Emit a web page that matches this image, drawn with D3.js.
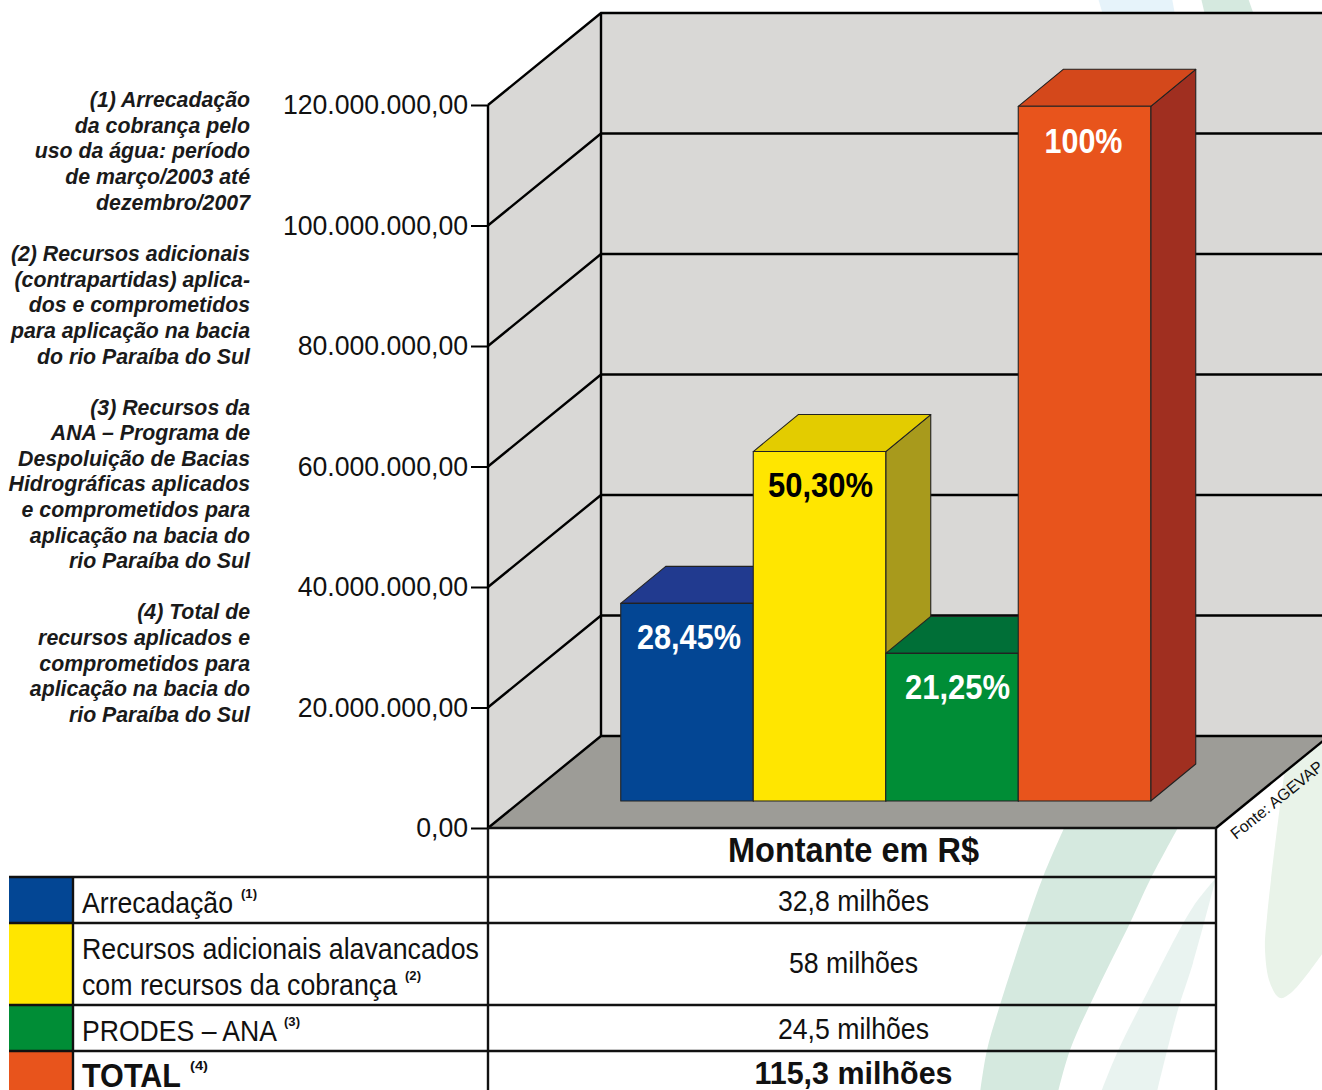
<!DOCTYPE html>
<html><head><meta charset="utf-8">
<script src="https://cdn.jsdelivr.net/npm/d3@7"></script>
<style>html,body{margin:0;padding:0;background:#fff;overflow:hidden}svg{display:block}text{font-family:"Liberation Sans",Arial,sans-serif}</style>
</head><body><svg id="c" width="1322" height="1090"></svg>
<script>
const categories = ["Arrecadação","Recursos adicionais alavancados com recursos da cobrança","PRODES – ANA","TOTAL"];
const values = [32800000,58000000,24500000,115300000];
const percentLabels = ["28,45%","50,30%","21,25%","100%"];
const percentColors = ["#fff","#000","#fff","#fff"];
const frontColors = ["#034694","#ffe600","#008d36","#e8541c"];
const topColors = ["#213a8f","#e3cc00","#006f37","#d4481b"];
const sideColors = ["#1a3070","#a89a1c","#00572a","#a02f20"];
const amountLabels = ["32,8 milhões","58 milhões","24,5 milhões","115,3 milhões"];
const tickValues = [0,20000000,40000000,60000000,80000000,100000000,120000000];
const notes = [
 "(1) Arrecadação","da cobrança pelo","uso da água: período","de março/2003 até","dezembro/2007",
 "(2) Recursos adicionais","(contrapartidas) aplica-","dos e comprometidos","para aplicação na bacia","do rio Paraíba do Sul",
 "(3) Recursos da","ANA – Programa de","Despoluição de Bacias","Hidrográficas aplicados","e comprometidos para","aplicação na bacia do","rio Paraíba do Sul",
 "(4) Total de","recursos aplicados e","comprometidos para","aplicação na bacia do","rio Paraíba do Sul"];
const noteBaselines = [107,133,158,184,210,261,287,312,338,364,415,440,466,491,517,543,568,619,645,671,696,722];

const svg = d3.select("#c");
const y = d3.scaleLinear().domain([0,120000000]).range([828,105]);
const x = d3.scaleBand().domain(categories).range([620.75,1150.75]);
const backDx=113, backDy=-92, barDx=45, barDy=-37, barLift=27;
const pts = a => a.map(p=>p.join(",")).join(" ");

// background decoration: each shape is two curved edges joined by straight ends
const curve = d3.line().curve(d3.curveCatmullRom);
const deco = [
 {c:"#d5e9df",a:[[1065,826],[1043,877],[1027,922],[1000,1005],[987,1050],[979,1100]],b:[[1056,1100],[1070,1050],[1097,990],[1130,923],[1150,880],[1179,826]]},
 {c:"#e9f3f0",a:[[1216,878],[1193,907],[1147,993],[1117,1053],[1098,1100]],b:[[1155,1100],[1177,1013],[1193,963],[1216,878]]},
 {c:"#e9f3e9",a:[[1290,735],[1283,783],[1267,917],[1265,950],[1270,983],[1280,998],[1292,992],[1325,950]],b:[[1325,735]]},
 {c:"#e6f3fa",a:[[1098,-2],[1103,15]],b:[[1175,15],[1172,-2]]},
 {c:"#d5e9df",a:[[1201,-2],[1205,15]],b:[[1254,15],[1248,-2]]}
];
svg.append("g").selectAll("path").data(deco).join("path")
 .attr("d",d=>curve(d.a)+"L"+(d.b.length>1?curve(d.b).slice(1):d.b[0].join(","))+"Z").attr("fill",d=>d.c);

// walls and floor
const y0=y(0), yTop=y(120000000), xL=488, xR=1216, xBack=xL+backDx;
svg.append("polygon").attr("points",pts([[xBack,yTop+backDy],[1322,yTop+backDy],[1322,y0+backDy],[xBack,y0+backDy]])).attr("fill","#d9d8d6");
svg.append("polygon").attr("points",pts([[xL,yTop],[xBack,yTop+backDy],[xBack,y0+backDy],[xL,y0]])).attr("fill","#d9d8d6");
svg.append("polygon").attr("points",pts([[xL,y0],[xBack,y0+backDy],[xR+backDx,y0+backDy],[xR,y0]])).attr("fill","#9d9c97");

// gridlines
const grid = svg.append("g").attr("stroke","#000").attr("stroke-width",2.4).attr("fill","none");
grid.selectAll("polyline").data(tickValues).join("polyline")
 .attr("points",d=>pts([[xL,y(d)],[xBack,y(d)+backDy],[1322,y(d)+backDy]]));
grid.append("line").attr("x1",xBack).attr("x2",xBack).attr("y1",yTop+backDy).attr("y2",y0+backDy);
grid.append("line").attr("x1",xL).attr("x2",xL).attr("y1",yTop).attr("y2",y0);
grid.append("line").attr("x1",xR).attr("x2",xR+backDx).attr("y1",y0).attr("y2",y0+backDy);

// axis
const fmt = d3.formatLocale({decimal:",",thousands:".",grouping:[3],currency:["R$",""]}).format(",.2f");
const axis = svg.append("g").attr("transform",`translate(${xL},0)`)
 .call(d3.axisLeft(y).tickValues(tickValues).tickFormat(fmt).tickSize(17).tickPadding(3));
axis.select(".domain").remove();
axis.selectAll("line").attr("stroke","#000").attr("stroke-width",2);
axis.selectAll("text").attr("font-size",28.4).attr("fill","#111").style("font-family",'"Liberation Sans",Arial,sans-serif').attr("dy","0.31em")
 .each(function(){ const w=this.getComputedTextLength(); d3.select(this).attr("textLength",w*0.938).attr("lengthAdjust","spacingAndGlyphs"); });

// bars
const bars = svg.append("g").selectAll("g").data(categories).join("g");
const base = y0-barLift, bw = x.bandwidth();
const hgt = v => y0-y(v);
bars.each(function(c,i){
 const g=d3.select(this), l=x(c), r=l+bw, t=base-hgt(values[i]);
 const add=(p,f)=>g.append("polygon").attr("points",pts(p)).attr("fill",f).attr("stroke","#222").attr("stroke-width",1.1).attr("stroke-linejoin","round");
 add([[r,t],[r+barDx,t+barDy],[r+barDx,base+barDy],[r,base]],sideColors[i]);
 add([[l,t],[r,t],[r+barDx,t+barDy],[l+barDx,t+barDy]],topColors[i]);
 add([[l,t],[r,t],[r,base],[l,base]],frontColors[i]);
});
const labelWidths=[104,105,105,78], labelDrop=[46,45,46,47], labelNudge=[2,1,5.5,-1];
bars.append("text").text((c,i)=>percentLabels[i])
 .attr("x",(c,i)=>x(c)+bw/2+labelNudge[i]-labelWidths[i]/2).attr("y",(c,i)=>base-hgt(values[i])+labelDrop[i])
 .attr("text-anchor","start").attr("font-size",35).attr("font-weight",700).attr("fill",(c,i)=>percentColors[i])
 .attr("textLength",(c,i)=>labelWidths[i]).attr("lengthAdjust","spacingAndGlyphs");

// notes
svg.append("g").selectAll("text").data(notes).join("text").text(d=>d)
 .attr("x",250).attr("y",(d,i)=>noteBaselines[i]).attr("text-anchor","end")
 .attr("font-size",21.3).attr("font-weight",700).attr("font-style","italic").attr("fill","#1a1a1a");

// table
const rowLines=[877,923,1005,1051];
const rowTops=[877,923,1005,1051], rowBottoms=[923,1005,1051,1092];
svg.append("g").selectAll("rect").data(frontColors).join("rect")
 .attr("x",9).attr("width",64).attr("y",(d,i)=>rowTops[i]).attr("height",(d,i)=>rowBottoms[i]-rowTops[i]).attr("fill",d=>d);
const tl=svg.append("g").attr("stroke","#111").attr("stroke-width",2.4);
tl.selectAll("line.h").data(rowLines).join("line").attr("class","h").attr("x1",9).attr("x2",xR).attr("y1",d=>d).attr("y2",d=>d);
tl.append("line").attr("x1",xL).attr("x2",xR).attr("y1",y0).attr("y2",y0);
[[xL,y0],[xR,y0]].forEach(p=>tl.append("line").attr("x1",p[0]).attr("x2",p[0]).attr("y1",p[1]).attr("y2",1090));
tl.append("line").attr("x1",73).attr("x2",73).attr("y1",877).attr("y2",1090);

function T(s,px,py,w,o={}){
 const t=svg.append("text").text(s).attr("x",o.a==="middle"?px-w/2:px).attr("y",py).attr("font-size",o.fs||30).attr("fill","#111")
  .attr("font-weight",o.b?700:400).attr("text-anchor","start");
 if(w) t.attr("textLength",w).attr("lengthAdjust","spacingAndGlyphs");
 return t;
}
T("Arrecadação",82,913,151);
T("Recursos adicionais alavancados",82,959,397);
T("com recursos da cobrança",82,995,315);
T("PRODES – ANA",82,1041,195);
T("TOTAL",82,1087,99,{b:1,fs:34});
[["(1)",241,898,16],["(2)",405,980,16],["(3)",284,1026,16],["(4)",190,1070,18]].forEach(a=>T(a[0],a[1],a[2],a[3],{fs:13,b:1}));
T("Montante em R$",853.5,862,251,{b:1,fs:34.5,a:"middle"});
const amtY=[911,973,1039,1084], amtW=[151,129,151,198];
amountLabels.forEach((s,i)=>T(s,853.5,amtY[i],amtW[i],{a:"middle",b:i===3,fs:i===3?32:30}));
svg.append("text").text("Fonte: AGEVAP").attr("transform","translate(1236,840) rotate(-39)").attr("font-size",16).attr("fill","#111");
</script></body></html>
